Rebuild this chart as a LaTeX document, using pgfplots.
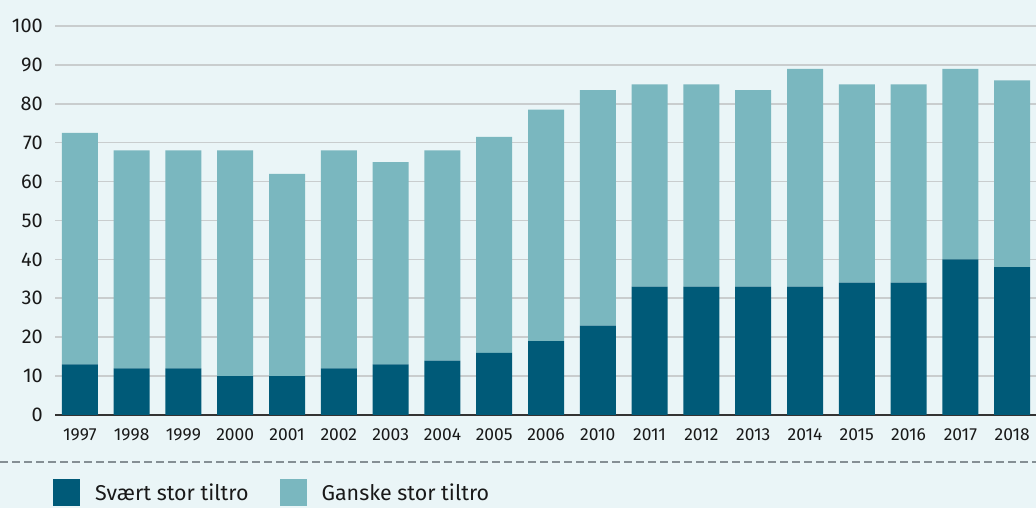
\documentclass[border=0pt]{standalone}
\usepackage{fontspec}
\setmainfont{Fira Sans}
\usepackage{pgfplots}
\usepackage{pgfplotstable}
\pgfplotsset{compat=1.18}

\definecolor{bgc}{HTML}{EAF5F7}
\definecolor{darkbar}{HTML}{005A78}
\definecolor{lightbar}{HTML}{7AB7BF}
\definecolor{gridc}{HTML}{C9CDCE}
\definecolor{dashc}{HTML}{858F94}

% year, svaert stor, ganske stor (stacked)
\pgfplotstableread{
idx year svaert ganske
0  1997 13 59.5
1  1998 12 56
2  1999 12 56
3  2000 10 58
4  2001 10 52
5  2002 12 56
6  2003 13 52
7  2004 14 54
8  2005 16 55.5
9  2006 19 59.5
10 2010 23 60.5
11 2011 33 52
12 2012 33 52
13 2013 33 50.5
14 2014 33 56
15 2015 34 51
16 2016 34 51
17 2017 40 49
18 2018 38 48
}\tiltro

\pgfplotsset{
  sq legend/.style={
    legend image code/.code={
      \fill[##1] (0bp,-13.5bp) rectangle (27bp,13.5bp);
      \path (42bp,0bp);
    }
  }
}

\begin{document}
\begin{tikzpicture}
  \path[use as bounding box] (0,0) rectangle (1036bp,508bp);
  \fill[bgc] (0,0) rectangle (1036bp,508bp);
  \clip (0,0) rectangle (1036bp,508bp);
  \begin{axis}[
    at={(55bp,93bp)}, anchor=south west,
    scale only axis,
    width=981bp, height=389bp,
    ybar stacked,
    bar width=36bp,
    xmin=-0.48, xmax=18.46,
    ymin=0, ymax=100,
    ytick={0,10,...,100},
    xtick=data,
    xticklabels from table={\tiltro}{year},
    major tick length=0pt,
    axis line style={draw=none},
    ymajorgrids,
    major grid style={gridc, line width=1.6bp},
    extra y ticks={0},
    extra y tick labels={},
    extra y tick style={major grid style={black!80, line width=1.8bp}},
    /pgf/number format/assume math mode=true,
    yticklabel style={font=\fontsize{20}{20}\selectfont, inner sep=0pt, xshift=-12bp, text=black!90},
    xticklabel style={font=\fontsize{17.5}{17.5}\selectfont, inner sep=0pt, anchor=north, yshift=-13bp, text=black!90},
    legend columns=2,
    legend style={
      draw=none, fill=none, inner sep=0pt,
      at={(axis description cs:-0.002,-0.2005)}, anchor=west,
      column sep=0pt,
      nodes={inner sep=0pt, font=\fontsize{21.5}{21.5}\selectfont, text=black!90},
      /tikz/every even column/.append style={column sep=31bp},
    },
    legend cell align=left,
  ]
    \addplot[fill=darkbar, draw=none, sq legend] table[x=idx, y=svaert] {\tiltro};
    \addlegendentry{Svært stor tiltro}
    \addplot[fill=lightbar, draw=none, sq legend] table[x=idx, y=ganske] {\tiltro};
    \addlegendentry{Ganske stor tiltro}
  \end{axis}
  \draw[dashc, line width=1.8bp, dash pattern=on 8bp off 4bp] (0bp,46bp) -- (1036bp,46bp);
\end{tikzpicture}
\end{document}
